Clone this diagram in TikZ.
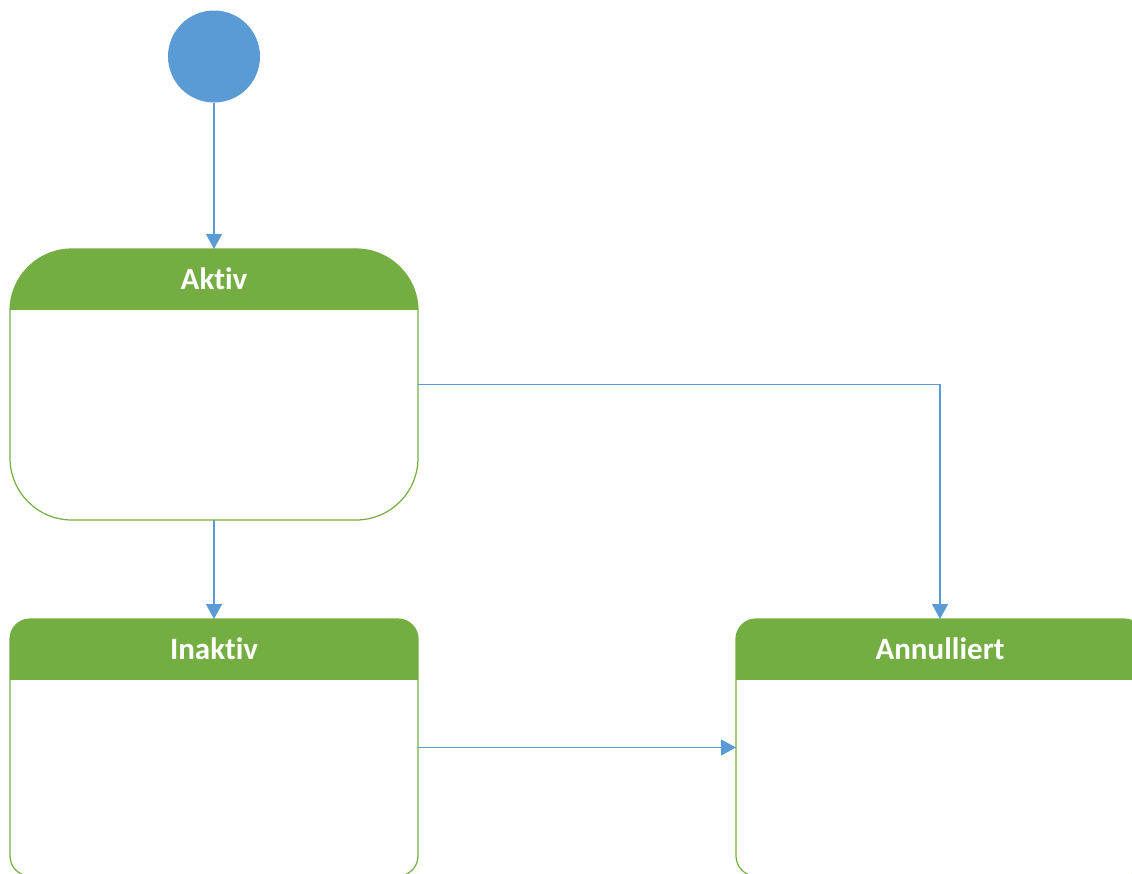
\documentclass[tikz,border=0pt]{standalone}
\usepackage{fontspec}
\setmainfont{Carlito}[Ligatures=NoCommon]
\usetikzlibrary{arrows.meta}
\definecolor{stgreen}{RGB}{116,174,66}
\definecolor{stblue}{RGB}{91,155,213}
\tikzset{
  conn/.style={draw=stblue, line width=1.2pt, -{Triangle[length=15pt,width=16pt]}},
  statebox/.style={draw=none, minimum width=408pt, inner sep=0pt, outer sep=0pt},
  stateline/.style={draw=stgreen, line width=1.2pt},
  headtext/.style={text=white, font=\bfseries\fontsize{31}{36}\selectfont, inner sep=0pt},
}
\begin{document}
\begin{tikzpicture}[x=1pt,y=-1pt]
\useasboundingbox (0,0) rectangle (1132,873);
\clip (0,0) rectangle (1132,873);
\fill[white] (0,0) rectangle (1132,873);
% initial state
\node[circle, fill=stblue, minimum size=92pt, inner sep=0pt, outer sep=0pt] (init) at (214,56.5) {};
% state boxes
\node[statebox, minimum height=271pt] (aktiv) at (214,384.5) {};
\node[statebox, minimum height=257pt] (inaktiv) at (214,747.5) {};
\node[statebox, minimum height=257pt] (annul) at (940,747.5) {};
% Aktiv
\begin{scope}
  \clip[rounded corners=62pt] (aktiv.north west) rectangle (aktiv.south east);
  \fill[stgreen] (aktiv.north west) rectangle ([yshift=-61pt]aktiv.north east);
\end{scope}
\draw[stateline, rounded corners=62pt] (aktiv.north west) rectangle (aktiv.south east);
\node[headtext] (aktivlbl) at ([yshift=-30pt]aktiv.north) {Aktiv};
% Inaktiv
\begin{scope}
  \clip[rounded corners=20pt] (inaktiv.north west) rectangle (inaktiv.south east);
  \fill[stgreen] (inaktiv.north west) rectangle ([yshift=-61pt]inaktiv.north east);
\end{scope}
\draw[stateline, rounded corners=20pt] (inaktiv.north west) rectangle (inaktiv.south east);
\node[headtext] (inaktivlbl) at ([yshift=-30pt]inaktiv.north) {Inaktiv};
% Annulliert
\begin{scope}
  \clip[rounded corners=20pt] (annul.north west) rectangle (annul.south east);
  \fill[stgreen] (annul.north west) rectangle ([yshift=-61pt]annul.north east);
\end{scope}
\draw[stateline, rounded corners=20pt] (annul.north west) rectangle (annul.south east);
\node[headtext] (annullbl) at ([yshift=-30pt]annul.north) {Annulliert};
% connectors
\draw[conn] (init.south) -- (aktiv.north);
\draw[conn] (aktiv.south) -- (inaktiv.north);
\draw[conn] (aktiv.east) -| (annul.north);
\draw[conn] (inaktiv.east) -- (annul.west);
\end{tikzpicture}
\end{document}
